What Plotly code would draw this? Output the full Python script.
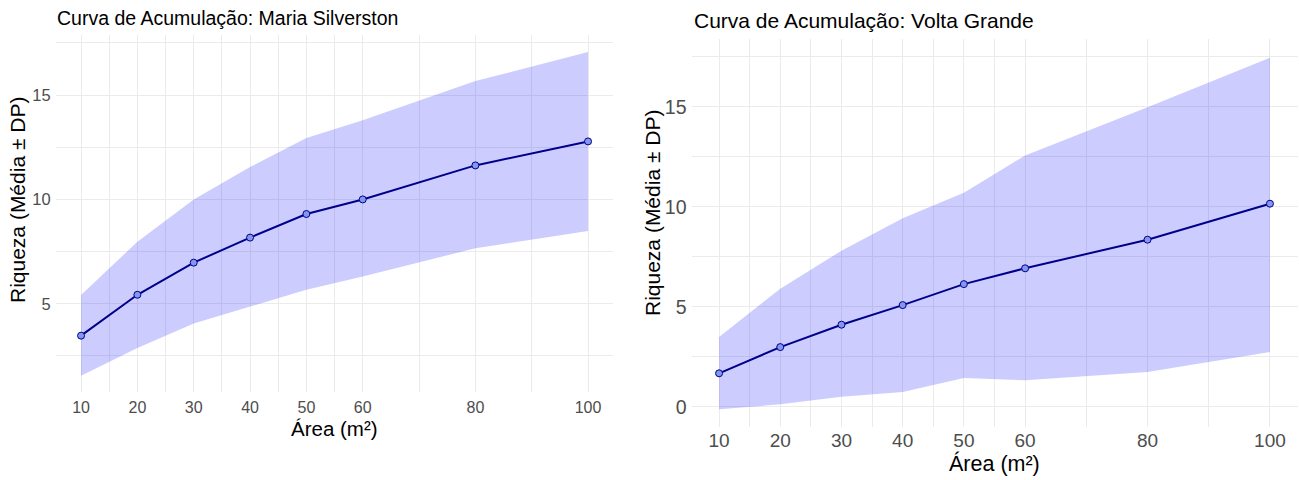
import plotly.graph_objects as go

# ---- data ----
area = [10, 20, 30, 40, 50, 60, 80, 100]
x_tickvals = [10, 20, 30, 40, 50, 60, 80, 100]
x_minor = [15, 25, 35, 45, 55, 70, 90]

ms_mean = [3.47, 5.43, 6.97, 8.17, 9.30, 10.00, 11.63, 12.78]
ms_upper = [5.42, 7.97, 10.00, 11.55, 12.94, 13.80, 15.67, 17.06]
ms_lower = [1.55, 2.88, 4.05, 4.86, 5.67, 6.30, 7.66, 8.49]

vg_mean = [1.67, 2.98, 4.10, 5.08, 6.13, 6.92, 8.35, 10.15]
vg_upper = [3.49, 5.90, 7.80, 9.42, 10.70, 12.56, 14.97, 17.45]
vg_lower = [-0.13, 0.12, 0.50, 0.73, 1.43, 1.32, 1.74, 2.74]

title_left = "Curva de Acumulação: Maria Silverston"
title_right = "Curva de Acumulação: Volta Grande"
xlab = "Área (m²)"
ylab = "Riqueza (Média ± DP)"

W, H = 1299, 480
FONT = "Liberation Sans, Arial, sans-serif"
GRID = "#EBEBEB"
FILL = "rgba(0,0,255,0.2)"
LINE = "#00008B"
MFILL = "#8398EC"
TICKC = "#4D4D4D"

fig = go.Figure()


def add_panel(mean, upper, lower, xa, ya):
    fig.add_trace(go.Scatter(x=area, y=upper, mode="lines", line=dict(width=0),
                             xaxis=xa, yaxis=ya, showlegend=False, hoverinfo="skip"))
    fig.add_trace(go.Scatter(x=area, y=lower, mode="lines", line=dict(width=0),
                             fill="tonexty", fillcolor=FILL,
                             xaxis=xa, yaxis=ya, showlegend=False, hoverinfo="skip"))
    fig.add_trace(go.Scatter(x=area, y=mean, mode="lines+markers",
                             line=dict(color=LINE, width=2),
                             marker=dict(size=7, color=MFILL, line=dict(color=LINE, width=1)),
                             xaxis=xa, yaxis=ya, showlegend=False))


add_panel(ms_mean, ms_upper, ms_lower, "x", "y")
add_panel(vg_mean, vg_upper, vg_lower, "x2", "y2")


def px_x(p):
    return p / W


def px_y(p):
    return 1 - p / H


def xaxis(domain, anchor, fs, standoff):
    return dict(domain=domain, anchor=anchor, range=[5.5, 104.5],
                tickmode="array", tickvals=x_tickvals,
                ticktext=[str(v) for v in x_tickvals],
                showgrid=True, gridcolor=GRID, gridwidth=1,
                minor=dict(tickvals=x_minor, showgrid=True, gridcolor=GRID, gridwidth=0.6),
                zeroline=False, showline=False, ticks="",
                tickfont=dict(family=FONT, size=fs, color=TICKC),
                ticklabelstandoff=standoff)


def yaxis(domain, anchor, rng, tv, mv, fs):
    return dict(domain=domain, anchor=anchor, range=rng,
                tickmode="array", tickvals=tv, ticktext=[str(v) for v in tv],
                showgrid=True, gridcolor=GRID, gridwidth=1,
                minor=dict(tickvals=mv, showgrid=True, gridcolor=GRID, gridwidth=0.6),
                zeroline=False, showline=False, ticks="",
                tickfont=dict(family=FONT, size=fs, color=TICKC),
                ticklabelstandoff=4)


fig.update_layout(
    width=W, height=H,
    margin=dict(l=0, r=0, t=0, b=0),
    paper_bgcolor="white", plot_bgcolor="white",
    xaxis=xaxis([px_x(55.7), px_x(613.4)], "y", 16, 4),
    yaxis=yaxis([px_y(392), px_y(35)], "x", [0.77, 17.88], [5, 10, 15],
                [2.5, 7.5, 12.5, 17.5], 16.5),
    xaxis2=xaxis([px_x(691.5), px_x(1297.5)], "y2", 19, 0),
    yaxis2=yaxis([px_y(427), px_y(39)], "x2", [-1.015, 18.385], [0, 5, 10, 15],
                 [2.5, 7.5, 12.5, 17.5], 19.5),
)

ann = [
    dict(text=title_left, x=px_x(55), y=px_y(18), xanchor="left", yanchor="middle",
         font=dict(family=FONT, size=19.5, color="black")),
    dict(text=title_right, x=px_x(692), y=px_y(21), xanchor="left", yanchor="middle",
         font=dict(family=FONT, size=21, color="black")),
    dict(text=xlab, x=px_x(334.5), y=px_y(428), xanchor="center", yanchor="middle",
         font=dict(family=FONT, size=20.5, color="black")),
    dict(text=xlab, x=px_x(994.5), y=px_y(463), xanchor="center", yanchor="middle",
         font=dict(family=FONT, size=21.5, color="black")),
    dict(text=ylab, x=px_x(17), y=px_y(200), xanchor="center", yanchor="middle",
         textangle=-90, font=dict(family=FONT, size=21, color="black")),
    dict(text=ylab, x=px_x(652), y=px_y(213), xanchor="center", yanchor="middle",
         textangle=-90, font=dict(family=FONT, size=21, color="black")),
]
for a in ann:
    a.update(xref="paper", yref="paper", showarrow=False)
fig.update_layout(annotations=ann)

fig.write_html("out.html")
